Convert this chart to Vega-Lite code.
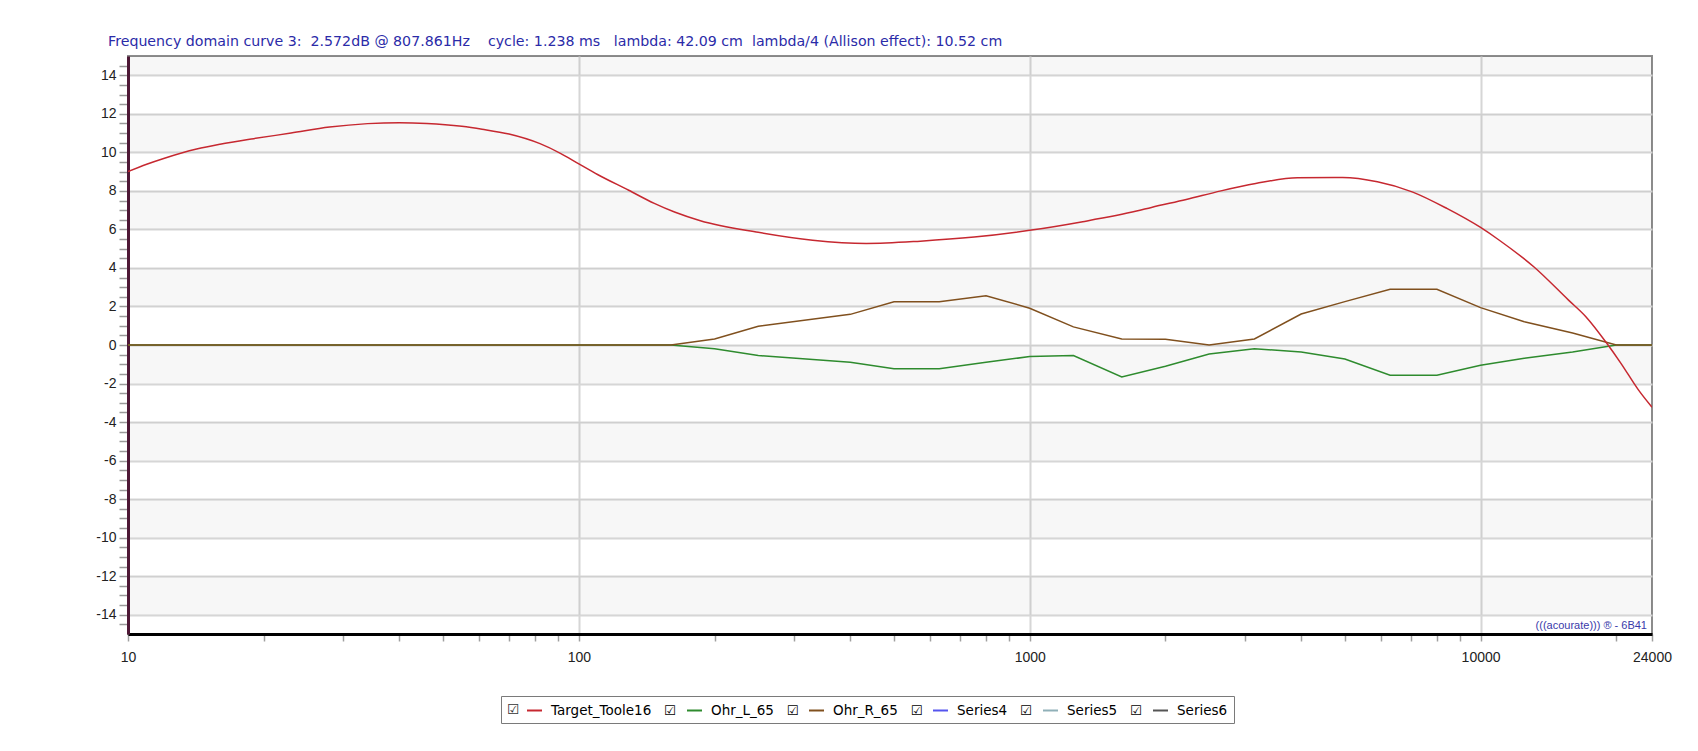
{
  "$schema": "https://vega.github.io/schema/vega-lite/v6.json",
  "width": 1524,
  "height": 578,
  "autosize": {"type": "none"},
  "padding": {"left": 128, "top": 56, "right": 46, "bottom": 117},
  "background": "white",
  "config": {
    "view": {"stroke": "#8c8c8c", "strokeWidth": 2},
    "font": "Liberation Sans, Arial, DejaVu Sans, sans-serif"
  },
  "title": {
    "text": "Frequency domain curve 3:\u00a0 2.572dB @ 807.861Hz\u00a0\u00a0\u00a0 cycle: 1.238 ms\u00a0\u00a0 lambda: 42.09 cm\u00a0 lambda/4 (Allison effect): 10.52 cm",
    "anchor": "start",
    "frame": "group",
    "dx": -20,
    "offset": -4,
    "font": "DejaVu Sans",
    "fontSize": 14.2,
    "fontWeight": "normal",
    "color": "#2b2ba8",
    "baseline": "alphabetic"
  },
  "datasets": {
    "bands": [
      {"lo": -14, "hi": -12}, {"lo": -10, "hi": -8}, {"lo": -6, "hi": -4}, {"lo": -2, "hi": 0},
      {"lo": 2, "hi": 4}, {"lo": 6, "hi": 8}, {"lo": 10, "hi": 12}, {"lo": 14, "hi": 15}
    ],
    "stamp": [
      {"freq": 24000, "db": -15, "label": "(((acourate))) ® - 6B41"}
    ],
    "curves": [
      {"series": "Target_Toole16", "freq": 10, "db": 9.0},
      {"series": "Target_Toole16", "freq": 11, "db": 9.38},
      {"series": "Target_Toole16", "freq": 12, "db": 9.68},
      {"series": "Target_Toole16", "freq": 14.2, "db": 10.17},
      {"series": "Target_Toole16", "freq": 16, "db": 10.42},
      {"series": "Target_Toole16", "freq": 19, "db": 10.71},
      {"series": "Target_Toole16", "freq": 23, "db": 11.0},
      {"series": "Target_Toole16", "freq": 28, "db": 11.31},
      {"series": "Target_Toole16", "freq": 34, "db": 11.49},
      {"series": "Target_Toole16", "freq": 40, "db": 11.54},
      {"series": "Target_Toole16", "freq": 46, "db": 11.5},
      {"series": "Target_Toole16", "freq": 55, "db": 11.35},
      {"series": "Target_Toole16", "freq": 61, "db": 11.2},
      {"series": "Target_Toole16", "freq": 70, "db": 10.95},
      {"series": "Target_Toole16", "freq": 82, "db": 10.45},
      {"series": "Target_Toole16", "freq": 91, "db": 9.95},
      {"series": "Target_Toole16", "freq": 100, "db": 9.4},
      {"series": "Target_Toole16", "freq": 110, "db": 8.85},
      {"series": "Target_Toole16", "freq": 129, "db": 8.03},
      {"series": "Target_Toole16", "freq": 147, "db": 7.35},
      {"series": "Target_Toole16", "freq": 163, "db": 6.9},
      {"series": "Target_Toole16", "freq": 186, "db": 6.45},
      {"series": "Target_Toole16", "freq": 250, "db": 5.85},
      {"series": "Target_Toole16", "freq": 330, "db": 5.44},
      {"series": "Target_Toole16", "freq": 434, "db": 5.27},
      {"series": "Target_Toole16", "freq": 572, "db": 5.39},
      {"series": "Target_Toole16", "freq": 753, "db": 5.6},
      {"series": "Target_Toole16", "freq": 1000, "db": 5.95},
      {"series": "Target_Toole16", "freq": 1311, "db": 6.4},
      {"series": "Target_Toole16", "freq": 1726, "db": 6.95},
      {"series": "Target_Toole16", "freq": 1862, "db": 7.14},
      {"series": "Target_Toole16", "freq": 2224, "db": 7.55},
      {"series": "Target_Toole16", "freq": 2656, "db": 8.0},
      {"series": "Target_Toole16", "freq": 3171, "db": 8.38},
      {"series": "Target_Toole16", "freq": 3925, "db": 8.68},
      {"series": "Target_Toole16", "freq": 4942, "db": 8.69},
      {"series": "Target_Toole16", "freq": 5903, "db": 8.47},
      {"series": "Target_Toole16", "freq": 7050, "db": 7.95},
      {"series": "Target_Toole16", "freq": 8417, "db": 7.09},
      {"series": "Target_Toole16", "freq": 10000, "db": 6.1},
      {"series": "Target_Toole16", "freq": 10985, "db": 5.45},
      {"series": "Target_Toole16", "freq": 13120, "db": 4.06},
      {"series": "Target_Toole16", "freq": 15670, "db": 2.33},
      {"series": "Target_Toole16", "freq": 17120, "db": 1.47},
      {"series": "Target_Toole16", "freq": 19050, "db": 0.09},
      {"series": "Target_Toole16", "freq": 20480, "db": -0.95},
      {"series": "Target_Toole16", "freq": 22390, "db": -2.33},
      {"series": "Target_Toole16", "freq": 24000, "db": -3.23},

      {"series": "Ohr_L_65", "freq": 10, "db": 0},
      {"series": "Ohr_L_65", "freq": 160, "db": 0},
      {"series": "Ohr_L_65", "freq": 200, "db": -0.2},
      {"series": "Ohr_L_65", "freq": 250, "db": -0.55},
      {"series": "Ohr_L_65", "freq": 400, "db": -0.9},
      {"series": "Ohr_L_65", "freq": 500, "db": -1.23},
      {"series": "Ohr_L_65", "freq": 630, "db": -1.23},
      {"series": "Ohr_L_65", "freq": 800, "db": -0.9},
      {"series": "Ohr_L_65", "freq": 1000, "db": -0.6},
      {"series": "Ohr_L_65", "freq": 1250, "db": -0.55},
      {"series": "Ohr_L_65", "freq": 1600, "db": -1.66},
      {"series": "Ohr_L_65", "freq": 2000, "db": -1.1},
      {"series": "Ohr_L_65", "freq": 2500, "db": -0.47},
      {"series": "Ohr_L_65", "freq": 3150, "db": -0.19},
      {"series": "Ohr_L_65", "freq": 4000, "db": -0.36},
      {"series": "Ohr_L_65", "freq": 5000, "db": -0.73},
      {"series": "Ohr_L_65", "freq": 6300, "db": -1.57},
      {"series": "Ohr_L_65", "freq": 8000, "db": -1.57},
      {"series": "Ohr_L_65", "freq": 10000, "db": -1.05},
      {"series": "Ohr_L_65", "freq": 12500, "db": -0.69},
      {"series": "Ohr_L_65", "freq": 16000, "db": -0.36},
      {"series": "Ohr_L_65", "freq": 20000, "db": 0},
      {"series": "Ohr_L_65", "freq": 24000, "db": 0},

      {"series": "Ohr_R_65", "freq": 10, "db": 0},
      {"series": "Ohr_R_65", "freq": 160, "db": 0},
      {"series": "Ohr_R_65", "freq": 200, "db": 0.31},
      {"series": "Ohr_R_65", "freq": 250, "db": 0.97},
      {"series": "Ohr_R_65", "freq": 400, "db": 1.59},
      {"series": "Ohr_R_65", "freq": 500, "db": 2.24},
      {"series": "Ohr_R_65", "freq": 630, "db": 2.24},
      {"series": "Ohr_R_65", "freq": 800, "db": 2.56},
      {"series": "Ohr_R_65", "freq": 1000, "db": 1.91},
      {"series": "Ohr_R_65", "freq": 1250, "db": 0.94},
      {"series": "Ohr_R_65", "freq": 1600, "db": 0.31},
      {"series": "Ohr_R_65", "freq": 2000, "db": 0.3},
      {"series": "Ohr_R_65", "freq": 2500, "db": 0},
      {"series": "Ohr_R_65", "freq": 3150, "db": 0.31},
      {"series": "Ohr_R_65", "freq": 4000, "db": 1.61},
      {"series": "Ohr_R_65", "freq": 5000, "db": 2.25},
      {"series": "Ohr_R_65", "freq": 6300, "db": 2.89},
      {"series": "Ohr_R_65", "freq": 8000, "db": 2.89},
      {"series": "Ohr_R_65", "freq": 10000, "db": 1.94},
      {"series": "Ohr_R_65", "freq": 12500, "db": 1.21},
      {"series": "Ohr_R_65", "freq": 16000, "db": 0.62},
      {"series": "Ohr_R_65", "freq": 20000, "db": 0},
      {"series": "Ohr_R_65", "freq": 24000, "db": 0}
    ]
  },
  "layer": [
    {
      "data": {"name": "bands"},
      "mark": {"type": "rect", "color": "#000000", "opacity": 0.03},
      "encoding": {
        "y": {"field": "lo", "type": "quantitative", "scale": {"domain": [-15, 15], "nice": false, "zero": false}},
        "y2": {"field": "hi"}
      }
    },
    {
      "data": {"name": "curves"},
      "transform": [{"filter": "datum.series != 'Target_Toole16'"}],
      "mark": {"type": "line", "strokeWidth": 1.5, "clip": true},
      "encoding": {
        "x": {
          "field": "freq", "type": "quantitative",
          "scale": {"type": "log", "domain": [10, 24000], "nice": false},
          "axis": {
            "title": null,
            "tickCount": 1000,
            "values": [10, 20, 30, 40, 50, 60, 70, 80, 90, 100, 200, 300, 400, 500, 600, 700, 800, 900, 1000, 2000, 3000, 4000, 5000, 6000, 7000, 8000, 9000, 10000, 20000, 24000],
            "labelExpr": "indexof([10, 100, 1000, 10000, 24000], datum.value) >= 0 ? '' + datum.value : ''",
            "grid": true,
            "gridOpacity": {"condition": {"test": "indexof([100, 1000, 10000], datum.value) >= 0", "value": 1}, "value": 0},
            "gridColor": "#d6d6d6",
            "gridWidth": 2,
            "domainColor": "#000000",
            "domainWidth": 3,
            "tickColor": "#a0a0a0",
            "tickWidth": 1.5,
            "tickSize": 7,
            "labelFontSize": 14,
            "labelColor": "#222222",
            "labelPadding": 9,
            "labelFlush": false,
            "labelOverlap": false,
            "labelBound": false
          }
        },
        "y": {
          "field": "db", "type": "quantitative",
          "scale": {"domain": [-15, 15], "nice": false, "zero": false},
          "axis": {
            "title": null,
            "tickCount": 1000,
            "values": [-14.5, -14, -13.5, -13, -12.5, -12, -11.5, -11, -10.5, -10, -9.5, -9, -8.5, -8, -7.5, -7, -6.5, -6, -5.5, -5, -4.5, -4, -3.5, -3, -2.5, -2, -1.5, -1, -0.5, 0, 0.5, 1, 1.5, 2, 2.5, 3, 3.5, 4, 4.5, 5, 5.5, 6, 6.5, 7, 7.5, 8, 8.5, 9, 9.5, 10, 10.5, 11, 11.5, 12, 12.5, 13, 13.5, 14, 14.5],
            "labelExpr": "datum.value % 2 == 0 ? '' + datum.value : ''",
            "grid": true,
            "gridOpacity": {"condition": {"test": "datum.value % 2 == 0", "value": 1}, "value": 0},
            "gridColor": "#d6d6d6",
            "gridWidth": 2,
            "domainColor": "#4e1836",
            "domainWidth": 3,
            "tickColor": "#9a9a9a",
            "tickWidth": 1.5,
            "tickSize": 9,
            "labelFontSize": 14,
            "labelColor": "#222222",
            "labelPadding": 3,
            "labelFlush": false,
            "labelOverlap": false
          }
        },
        "color": {
          "field": "series", "type": "nominal",
          "scale": {
            "domain": ["Target_Toole16", "Ohr_L_65", "Ohr_R_65", "Series4", "Series5", "Series6"],
            "range": ["#c62830", "#2e8b2e", "#80501e", "#5555ee", "#90b0b8", "#555555"]
          },
          "legend": {
            "orient": "none",
            "legendX": 373,
            "legendY": 640,
            "direction": "horizontal",
            "columns": 6,
            "title": "☑",
            "titleOrient": "left",
            "titleFont": "DejaVu Sans",
            "titleFontSize": 14,
            "titleFontWeight": "normal",
            "titleColor": "#333333",
            "titlePadding": 6,
            "symbolType": "stroke",
            "symbolSize": 225,
            "symbolStrokeWidth": 2,
            "labelFont": "DejaVu Sans",
            "labelFontSize": 13.5,
            "labelColor": "#000000",
            "labelOffset": 8,
            "columnPadding": 6,
            "labelLimit": 300,
            "labelExpr": "datum.label == 'Series6' ? datum.label : datum.label + '\u00a0\u00a0\u00a0☑'",
            "padding": 6,
            "strokeColor": "#7a7a7a",
            "fillColor": "#ffffff",
            "cornerRadius": 0
          }
        }
      }
    },
    {
      "data": {"name": "curves"},
      "transform": [{"filter": "datum.series == 'Target_Toole16'"}],
      "mark": {"type": "line", "strokeWidth": 1.5, "clip": true, "interpolate": "monotone"},
      "encoding": {
        "x": {
          "field": "freq", "type": "quantitative",
          "scale": {"type": "log", "domain": [10, 24000], "nice": false},
          "axis": {
            "title": null,
            "tickCount": 1000,
            "values": [10, 20, 30, 40, 50, 60, 70, 80, 90, 100, 200, 300, 400, 500, 600, 700, 800, 900, 1000, 2000, 3000, 4000, 5000, 6000, 7000, 8000, 9000, 10000, 20000, 24000],
            "labelExpr": "indexof([10, 100, 1000, 10000, 24000], datum.value) >= 0 ? '' + datum.value : ''",
            "grid": true,
            "gridOpacity": {"condition": {"test": "indexof([100, 1000, 10000], datum.value) >= 0", "value": 1}, "value": 0},
            "gridColor": "#d6d6d6",
            "gridWidth": 2,
            "domainColor": "#000000",
            "domainWidth": 3,
            "tickColor": "#a0a0a0",
            "tickWidth": 1.5,
            "tickSize": 7,
            "labelFontSize": 14,
            "labelColor": "#222222",
            "labelPadding": 9,
            "labelFlush": false,
            "labelOverlap": false,
            "labelBound": false
          }
        },
        "y": {
          "field": "db", "type": "quantitative",
          "scale": {"domain": [-15, 15], "nice": false, "zero": false},
          "axis": {
            "title": null,
            "tickCount": 1000,
            "values": [-14.5, -14, -13.5, -13, -12.5, -12, -11.5, -11, -10.5, -10, -9.5, -9, -8.5, -8, -7.5, -7, -6.5, -6, -5.5, -5, -4.5, -4, -3.5, -3, -2.5, -2, -1.5, -1, -0.5, 0, 0.5, 1, 1.5, 2, 2.5, 3, 3.5, 4, 4.5, 5, 5.5, 6, 6.5, 7, 7.5, 8, 8.5, 9, 9.5, 10, 10.5, 11, 11.5, 12, 12.5, 13, 13.5, 14, 14.5],
            "labelExpr": "datum.value % 2 == 0 ? '' + datum.value : ''",
            "grid": true,
            "gridOpacity": {"condition": {"test": "datum.value % 2 == 0", "value": 1}, "value": 0},
            "gridColor": "#d6d6d6",
            "gridWidth": 2,
            "domainColor": "#4e1836",
            "domainWidth": 3,
            "tickColor": "#9a9a9a",
            "tickWidth": 1.5,
            "tickSize": 9,
            "labelFontSize": 14,
            "labelColor": "#222222",
            "labelPadding": 3,
            "labelFlush": false,
            "labelOverlap": false
          }
        },
        "color": {
          "field": "series", "type": "nominal",
          "scale": {
            "domain": ["Target_Toole16", "Ohr_L_65", "Ohr_R_65", "Series4", "Series5", "Series6"],
            "range": ["#c62830", "#2e8b2e", "#80501e", "#5555ee", "#90b0b8", "#555555"]
          },
          "legend": {
            "orient": "none",
            "legendX": 373,
            "legendY": 640,
            "direction": "horizontal",
            "columns": 6,
            "title": "☑",
            "titleOrient": "left",
            "titleFont": "DejaVu Sans",
            "titleFontSize": 14,
            "titleFontWeight": "normal",
            "titleColor": "#333333",
            "titlePadding": 6,
            "symbolType": "stroke",
            "symbolSize": 225,
            "symbolStrokeWidth": 2,
            "labelFont": "DejaVu Sans",
            "labelFontSize": 13.5,
            "labelColor": "#000000",
            "labelOffset": 8,
            "columnPadding": 6,
            "labelLimit": 300,
            "labelExpr": "datum.label == 'Series6' ? datum.label : datum.label + '\u00a0\u00a0\u00a0☑'",
            "padding": 6,
            "strokeColor": "#7a7a7a",
            "fillColor": "#ffffff",
            "cornerRadius": 0
          }
        }
      }
    },
    {
      "data": {"name": "stamp"},
      "mark": {"type": "text", "align": "right", "baseline": "bottom", "dx": -5, "dy": -3, "fontSize": 11, "color": "#3a3aaa"},
      "encoding": {
        "x": {"field": "freq", "type": "quantitative", "scale": {"type": "log", "domain": [10, 24000], "nice": false}},
        "y": {"field": "db", "type": "quantitative", "scale": {"domain": [-15, 15], "nice": false, "zero": false}},
        "text": {"field": "label"}
      }
    }
  ]
}
